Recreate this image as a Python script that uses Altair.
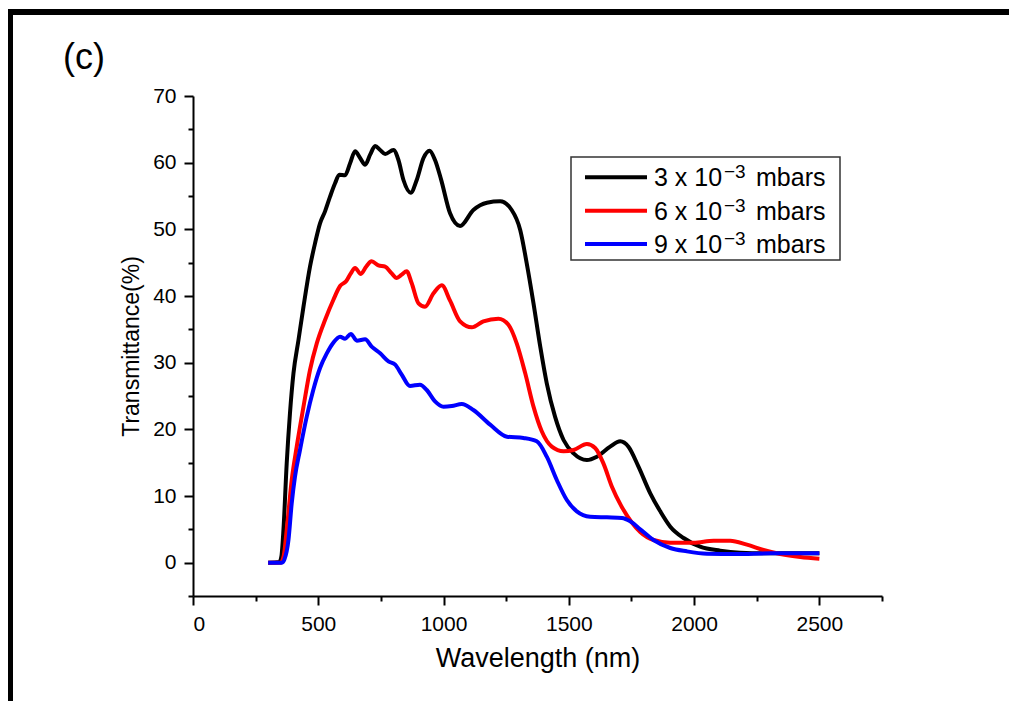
import altair as alt
import pandas as pd

FONT = "Liberation Sans"

# ---------------- data ----------------
series_names = ["3 x 10⁻³ mbars", "6 x 10⁻³ mbars", "9 x 10⁻³ mbars"]
series_colors = ["#000000", "#ff0000", "#0000ff"]
legend_prefix = ["3 x 10", "6 x 10", "9 x 10"]
legend_sup = "−3"
legend_suffix = "mbars"

wl_3 = [300, 345, 353, 361, 374, 387, 401, 421, 441, 467, 487, 507, 527, 547, 567, 584, 607,
        627, 647, 667, 687, 707, 727, 747, 767, 800, 820, 840, 869, 893, 920, 944, 966, 990,
        1026, 1066, 1119, 1173, 1226, 1272, 1306, 1332, 1359, 1386, 1412, 1445, 1479, 1519,
        1572, 1612, 1665, 1705, 1738, 1778, 1825, 1865, 1905, 1958, 2024, 2104, 2184, 2304,
        2400, 2500]
t_3 = [0.0, 0.1, 1.0, 4.9, 14.9, 22.4, 28.4, 33.4, 38.4, 44.4, 47.9, 50.9, 52.7, 54.9, 56.9,
       58.2, 58.1, 59.9, 61.7, 60.7, 59.7, 61.2, 62.5, 61.9, 61.3, 61.9, 60.4, 57.4, 55.5, 57.4,
       60.7, 61.8, 60.4, 57.5, 52.4, 50.5, 52.9, 54.0, 54.2, 52.9, 49.9, 44.9, 38.9, 32.4, 26.9,
       21.9, 18.4, 16.4, 15.4, 15.9, 17.4, 18.2, 17.4, 14.4, 10.4, 7.7, 5.4, 3.7, 2.4, 1.8, 1.5,
       1.4, 1.4, 1.4]

wl_6 = [300, 350, 362, 374, 394, 414, 441, 467, 494, 527, 560, 587, 611, 630, 647, 670, 691,
        713, 740, 767, 793, 813, 833, 853, 873, 900, 926, 960, 993, 1026, 1066, 1113, 1159,
        1219, 1259, 1292, 1326, 1359, 1392, 1432, 1479, 1519, 1572, 1605, 1638, 1672, 1708,
        1750, 1785, 1838, 1905, 1998, 2078, 2144, 2211, 2277, 2344, 2424, 2500]
t_6 = [0.0, 0.0, 1.0, 4.9, 12.4, 17.4, 23.4, 28.9, 32.9, 36.4, 39.4, 41.5, 42.2, 43.4, 44.2,
       43.3, 44.4, 45.2, 44.6, 44.4, 43.4, 42.7, 43.2, 43.7, 41.9, 38.9, 38.4, 40.4, 41.6, 39.3,
       36.2, 35.3, 36.2, 36.6, 35.7, 32.9, 28.4, 23.4, 19.7, 17.4, 16.7, 16.9, 17.8, 17.2, 14.9,
       11.4, 8.6, 6.1, 4.6, 3.4, 3.0, 3.0, 3.3, 3.3, 2.7, 1.9, 1.3, 0.85, 0.6]

wl_9 = [300, 355, 365, 381, 394, 407, 427, 454, 480, 507, 534, 560, 587, 607, 630, 654, 687,
        713, 747, 780, 807, 833, 866, 906, 933, 966, 1000, 1033, 1073, 1119, 1186, 1253, 1319,
        1372, 1412, 1452, 1492, 1532, 1585, 1652, 1712, 1745, 1785, 1838, 1905, 1971, 2051,
        2171, 2304, 2500]
t_9 = [0.0, 0.0, 0.5, 3.4, 8.9, 12.9, 16.9, 21.9, 25.9, 29.2, 31.4, 33.0, 33.9, 33.6, 34.3,
       33.3, 33.5, 32.4, 31.4, 30.2, 29.7, 28.2, 26.5, 26.7, 25.9, 24.2, 23.4, 23.5, 23.8, 22.9,
       20.7, 18.9, 18.7, 18.2, 15.9, 12.4, 9.4, 7.7, 6.9, 6.8, 6.7, 6.2, 5.0, 3.4, 2.2, 1.7,
       1.35, 1.3, 1.4, 1.4]

x_major = [0, 500, 1000, 1500, 2000, 2500]
x_minor = [250, 750, 1250, 1750, 2250, 2750]
y_major = [0, 10, 20, 30, 40, 50, 60, 70]
y_minor = [-5, 5, 15, 25, 35, 45, 55, 65]
x_domain = [0, 2750]
y_domain = [-5, 70]
panel_label = "(c)"
x_title = "Wavelength (nm)"
y_title = "Transmittance(%)"

# ---------------- table ----------------
frames = []
for name, wl, t in zip(series_names, [wl_3, wl_6, wl_9], [t_3, t_6, t_9]):
    frames.append(pd.DataFrame({"wl": wl, "t": t, "series": name}))
df = pd.concat(frames, ignore_index=True)

xscale = alt.Scale(domain=x_domain, nice=False, zero=False)
yscale = alt.Scale(domain=y_domain, nice=False, zero=False)

lines = alt.Chart(df).mark_line(strokeWidth=4, interpolate="monotone").encode(
    x=alt.X("wl:Q", scale=xscale,
            axis=alt.Axis(values=x_major, title=x_title, orient="bottom", tickSize=9,
                          labelPadding=8, labelFontSize=21, titleFontSize=27,
                          titlePadding=11, format="d")),
    y=alt.Y("t:Q", scale=yscale,
            axis=alt.Axis(values=y_major, title=y_title, orient="left", tickSize=9,
                          labelPadding=8, labelFontSize=21, titleFontSize=23,
                          titlePadding=9, format="d")),
    color=alt.Color("series:N", scale=alt.Scale(domain=series_names, range=series_colors),
                    legend=None),
)

minor = alt.Chart(df).mark_point(opacity=0).encode(
    x=alt.X("wl:Q", scale=xscale,
            axis=alt.Axis(values=x_minor, orient="bottom", labels=False, domain=False,
                          tickSize=5, title="")),
    y=alt.Y("t:Q", scale=yscale,
            axis=alt.Axis(values=y_minor, orient="left", labels=False, domain=False,
                          tickSize=5, title="")),
)

one = pd.DataFrame({"k": [0]})

legend_box = alt.Chart(one).mark_rect(fillOpacity=0, stroke="#333333", strokeWidth=1.5).encode(
    x=alt.value(378), x2=alt.value(647), y=alt.value(61), y2=alt.value(164)
)

legend_layers = []
row_y = [81.3, 114.7, 148.0]
for i, name in enumerate(series_names):
    ry = row_y[i]
    legend_layers.append(
        alt.Chart(one).mark_rule(stroke=series_colors[i], strokeWidth=4).encode(
            x=alt.value(392), x2=alt.value(454), y=alt.value(ry))
    )
    legend_layers.append(
        alt.Chart(pd.DataFrame({"label": [legend_prefix[i]]})).mark_text(
            align="left", baseline="alphabetic", fontSize=25, font=FONT, color="black").encode(
            x=alt.value(461), y=alt.value(ry + 9), text="label:N")
    )
    legend_layers.append(
        alt.Chart(pd.DataFrame({"label": [legend_sup]})).mark_text(
            align="left", baseline="alphabetic", fontSize=19, font=FONT, color="black").encode(
            x=alt.value(531), y=alt.value(ry + 1), text="label:N")
    )
    legend_layers.append(
        alt.Chart(pd.DataFrame({"label": [legend_suffix]})).mark_text(
            align="left", baseline="alphabetic", fontSize=25, font=FONT, color="black").encode(
            x=alt.value(563), y=alt.value(ry + 9), text="label:N")
    )

border_top = alt.Chart(one).mark_rule(color="black", strokeWidth=6).encode(
    x=alt.value(-186), x2=alt.value(830), y=alt.value(-84))
border_left = alt.Chart(one).mark_rule(color="black", strokeWidth=6).encode(
    x=alt.value(-183), y=alt.value(-87), y2=alt.value(640))

panel = alt.Chart(pd.DataFrame({"label": [panel_label]})).mark_text(
    align="left", baseline="alphabetic", fontSize=36, font=FONT, color="black").encode(
    x=alt.value(-130), y=alt.value(-27.5), text="label:N")

chart = alt.layer(lines, minor, legend_box, *legend_layers, border_top, border_left, panel).resolve_axis(
    x="independent", y="independent"
).properties(
    width=689, height=500,
    padding={"left": 185, "top": 88, "right": 127, "bottom": 105},
    autosize=alt.AutoSizeParams(type="none"),
    background="white",
).configure_view(stroke=None).configure_axis(
    labelFont=FONT, titleFont=FONT, labelColor="black", titleColor="black",
    domainColor="black", tickColor="black", domainWidth=2, tickWidth=2,
    grid=False, titleFontWeight="normal",
)

chart.save("out.html", embed_options={"renderer": "svg", "actions": False})
